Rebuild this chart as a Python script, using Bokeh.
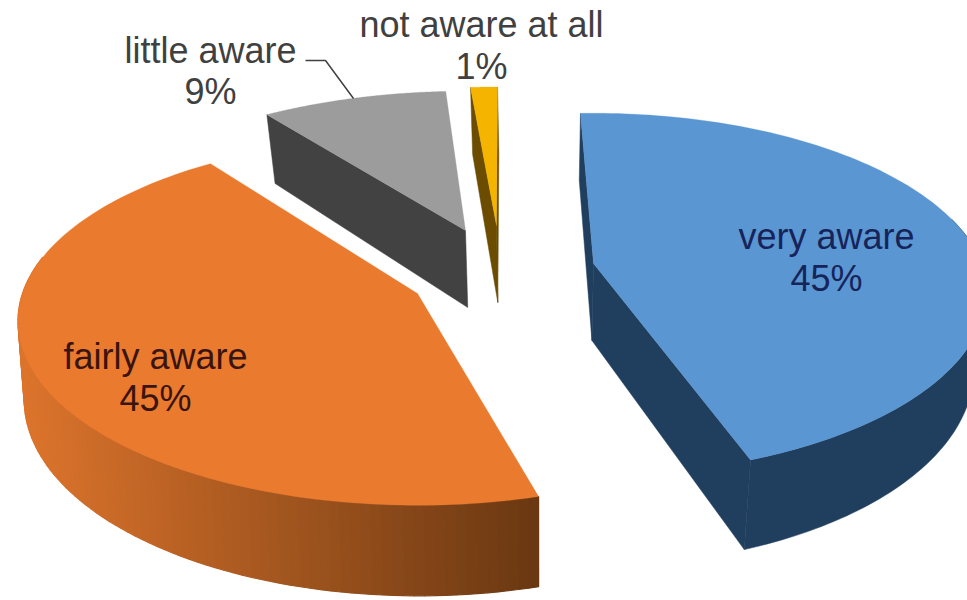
import numpy as np
from bokeh.plotting import figure
from bokeh.models import Range1d
from bokeh.core.properties import value
from bokeh.embed import file_html
from bokeh.resources import INLINE

categories = ["very aware", "fairly aware", "little aware", "not aware at all"]
percents = [45, 45, 9, 1]
face_colors = ["#5A96D2", "#E97A2E", "#9C9C9C", "#F4B400"]
wall_colors = ["#203F5F", "#8A4C1C", "#424242", "#6B4C00"]
label_colors = ["#16245A", "#3A1410", "#404040", "#404040"]

# layout of the perspective pie (pixels of the 967x600 picture)
RX, RY, K = 395.0, 180.0, 0.15
DEPTH, VX = 77.0, 540.0
ROT = -2.3
centers = [(593, 263), (417, 293), (465, 230), (496, 225)]
angle_nudge = [(0, 0.0), (5.1, 2.3), (0.3, 2.2), (1.0, 2.5)]
rear_shrink = [0.04, 0.0, 0.11, 0.115]
rx_scale = [0.985, 1.0, 1.0, 1.0]
ry_front = [1.0, 1.0, 1.0, 1.0]
wall_shrink = [0.03, 0.012, 0.03, 0.03]
label_pos = [(826, 236, 278), (155, 356, 398), (210, 50, 91), (481, 24, 66)]


def top(i, deg):
    t = np.radians(np.asarray(deg, dtype=float))
    X, Y = np.sin(t), np.cos(t)
    s = 1 / (1 + K * Y)
    r = 1 - rear_shrink[i] * np.clip(Y, 0, None)
    f = 1 + (ry_front[i] - 1) * np.clip(-Y, 0, None)
    cx, cy = centers[i]
    return cx + RX * rx_scale[i] * X * s * r, cy - RY * Y * s * r * f, s


def lower(i, x, y, s):
    return VX + (x - VX) * (1 - wall_shrink[i]), y + DEPTH * s


p = figure(width=967, height=600, output_backend="svg", toolbar_location=None,
           x_range=Range1d(0, 967), y_range=Range1d(600, 0),
           min_border=0, outline_line_color=None, background_fill_color="white")
p.axis.visible = False
p.grid.visible = False

cum = 0.0
spans = []
for v, nudge in zip(percents, angle_nudge):
    a0 = ROT + cum * 3.6 + nudge[0]
    cum += v
    a1 = ROT + cum * 3.6 + nudge[1]
    spans.append((a0, a1))


def wall_edge(i, deg, color):
    cx, cy = centers[i]
    x, y, s = top(i, deg)
    lx, ly = lower(i, x, y, s)
    cl = lower(i, cx, cy, 1.0)
    p.patch([cx, float(x), float(lx), cl[0]], [cy, float(y), float(ly), cl[1]],
            color=color, line_width=0.5)


def outer_wall(i, a0, a1, color=None, n=80):
    a = np.linspace(a0, a1, n)
    x, y, s = top(i, a)
    lx, ly = lower(i, x, y, s)
    p.patch(np.r_[x, lx[::-1]], np.r_[y, ly[::-1]], color=color, line_width=0.5)


# walls
wall_edge(2, spans[2][0], wall_colors[2])
wall_edge(3, spans[3][1], wall_colors[3])
wall_edge(3, spans[3][0], wall_colors[3])
wall_edge(0, spans[0][0], wall_colors[0])
wall_edge(0, spans[0][1], wall_colors[0])
outer_wall(0, 75, spans[0][1], wall_colors[0])

# orange wall, shaded along x
c0, c1 = np.array([0xDC, 0x74, 0x2C]), np.array([0x6A, 0x38, 0x12])
edges = np.linspace(spans[1][0], 282, 90)
for a, b in zip(edges[:-1], edges[1:]):
    x, y, s = top(1, [a, b])
    lx, ly = lower(1, x, y, s)
    f = float(np.clip((x.mean() - 20) / 515, 0, 1))
    col = c0 + (c1 - c0) * f
    hexc = "#%02x%02x%02x" % tuple(int(round(q)) for q in col)
    p.patch([x[0], x[1], lx[1], lx[0]], [y[0], y[1], ly[1], ly[0]], color=hexc, line_width=1.2)

# top faces
for i, (a0, a1) in enumerate(spans):
    a = np.linspace(a0, a1, 120)
    x, y, _ = top(i, a)
    cx, cy = centers[i]
    p.patch(np.r_[cx, x], np.r_[cy, y], color=face_colors[i], line_width=0.3)

# leader of the "little aware" label
p.line([305, 325, 353], [60, 60, 98], line_color="#404040", line_width=1.5)

for i, cat in enumerate(categories):
    lx, y1, y2 = label_pos[i]
    p.text([lx, lx], [y1, y2], text=[cat, f"{percents[i]}%"],
           text_font=value("Liberation Sans"), text_font_size="36px",
           text_align="center", text_baseline="alphabetic", text_color=label_colors[i])

open("out.html", "w").write(file_html(p, INLINE))
